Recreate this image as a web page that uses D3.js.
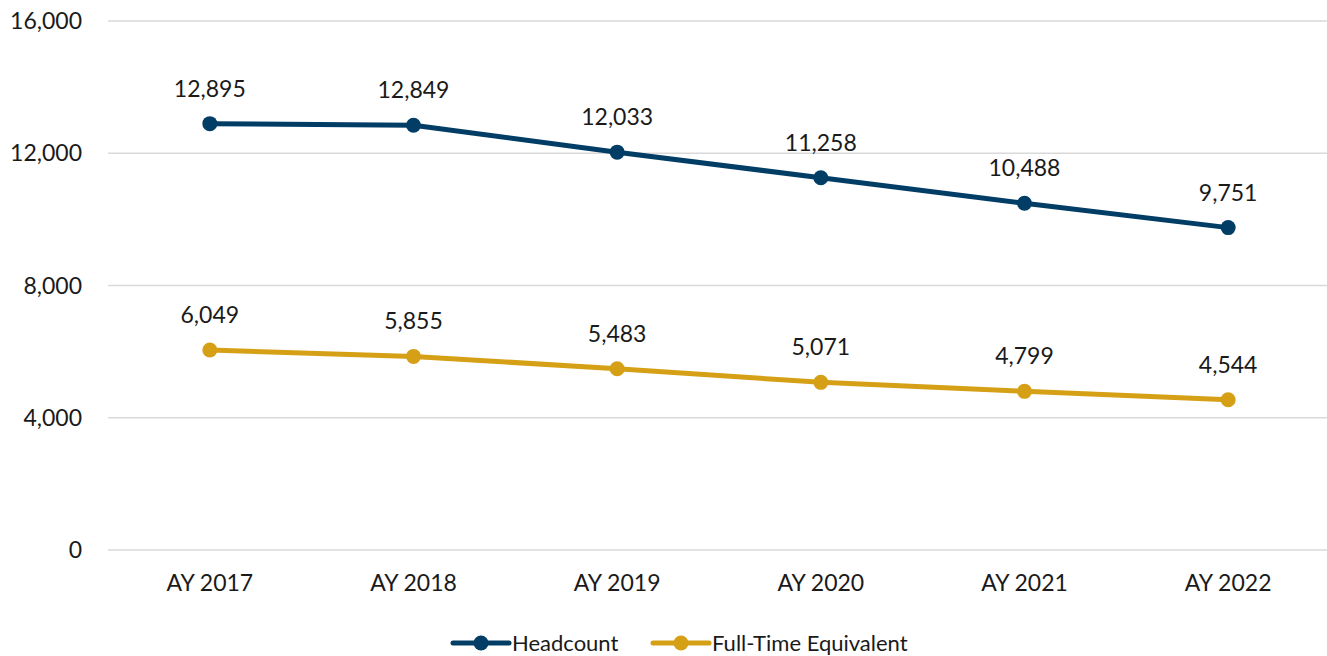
<!DOCTYPE html>
<html>
<head>
<meta charset="utf-8">
<script src="https://cdn.jsdelivr.net/npm/d3@7"></script>
<style>
  body { margin: 0; background: #fff; }
  svg { display: block; font-family: Lato, "Open Sans", sans-serif; }
</style>
</head>
<body>
<svg id="chart"></svg>
<script>
var years = ["AY 2017", "AY 2018", "AY 2019", "AY 2020", "AY 2021", "AY 2022"];
var headcount = [12895, 12849, 12033, 11258, 10488, 9751];
var fte = [6049, 5855, 5483, 5071, 4799, 4544];
var yTicks = [0, 4000, 8000, 12000, 16000];

var width = 1327,
  height = 656,
  plotLeft = 108,
  plotRight = 1330,
  plotTop = 21,
  plotBottom = 550,
  fontSize = "23px";

var series = [
  { name: "Headcount", values: headcount, color: "#023d66" },
  { name: "Full-Time Equivalent", values: fte, color: "#d6a016" }
];

var svg = d3.select("#chart").attr("width", width).attr("height", height);

var x = d3.scaleBand().domain(years).range([plotLeft, plotRight]);
var y = d3.scaleLinear().domain([0, 16000]).range([plotBottom, plotTop]);
var fmt = d3.format(",");

// grid
svg.append("g").selectAll("line")
  .data(yTicks)
  .enter().append("line")
  .attr("x1", plotLeft).attr("x2", width)
  .attr("y1", function(d) { return y(d); })
  .attr("y2", function(d) { return y(d); })
  .attr("stroke", "#d9d9d9")
  .attr("stroke-width", 1.5);

// y labels
svg.append("g").selectAll("text")
  .data(yTicks)
  .enter().append("text")
  .attr("x", 82).attr("y", function(d) { return y(d); })
  .attr("dy", "0.35em")
  .attr("text-anchor", "end")
  .attr("font-size", fontSize)
  .attr("fill", "#1a1a1a")
  .text(fmt);

// x labels
svg.append("g").selectAll("text")
  .data(years)
  .enter().append("text")
  .attr("x", function(d) { return x(d) + x.bandwidth() / 2; })
  .attr("y", 591)
  .attr("text-anchor", "middle")
  .attr("font-size", fontSize)
  .attr("fill", "#1a1a1a")
  .text(function(d) { return d; });

var line = d3.line()
  .x(function(d, i) { return x(years[i]) + x.bandwidth() / 2; })
  .y(function(d) { return y(d); });

series.forEach(function(s) {
  var g = svg.append("g");
  g.append("path")
    .datum(s.values)
    .attr("d", line)
    .attr("fill", "none")
    .attr("stroke", s.color)
    .attr("stroke-width", 5)
    .attr("stroke-linejoin", "round");
  g.selectAll("circle")
    .data(s.values)
    .enter().append("circle")
    .attr("cx", function(d, i) { return x(years[i]) + x.bandwidth() / 2; })
    .attr("cy", function(d) { return y(d); })
    .attr("r", 7.5)
    .attr("fill", s.color);
  g.selectAll("text")
    .data(s.values)
    .enter().append("text")
    .attr("x", function(d, i) { return x(years[i]) + x.bandwidth() / 2; })
    .attr("y", function(d) { return y(d) - 27; })
    .attr("text-anchor", "middle")
    .attr("font-size", fontSize)
    .attr("fill", "#1a1a1a")
    .text(fmt);
});

// legend
var legendX = [453, 653];
var legend = svg.append("g").selectAll("g")
  .data(series)
  .enter().append("g")
  .attr("transform", function(d, i) { return "translate(" + legendX[i] + ",643)"; });
legend.append("line")
  .attr("x1", 0).attr("x2", 56)
  .attr("stroke", function(d) { return d.color; })
  .attr("stroke-width", 5)
  .attr("stroke-linecap", "round");
legend.append("circle")
  .attr("cx", 28).attr("r", 7.5)
  .attr("fill", function(d) { return d.color; });
legend.append("text")
  .attr("x", 59).attr("dy", "0.35em")
  .attr("font-size", "22px")
  .attr("fill", "#1a1a1a")
  .text(function(d) { return d.name; });
</script>
</body>
</html>
